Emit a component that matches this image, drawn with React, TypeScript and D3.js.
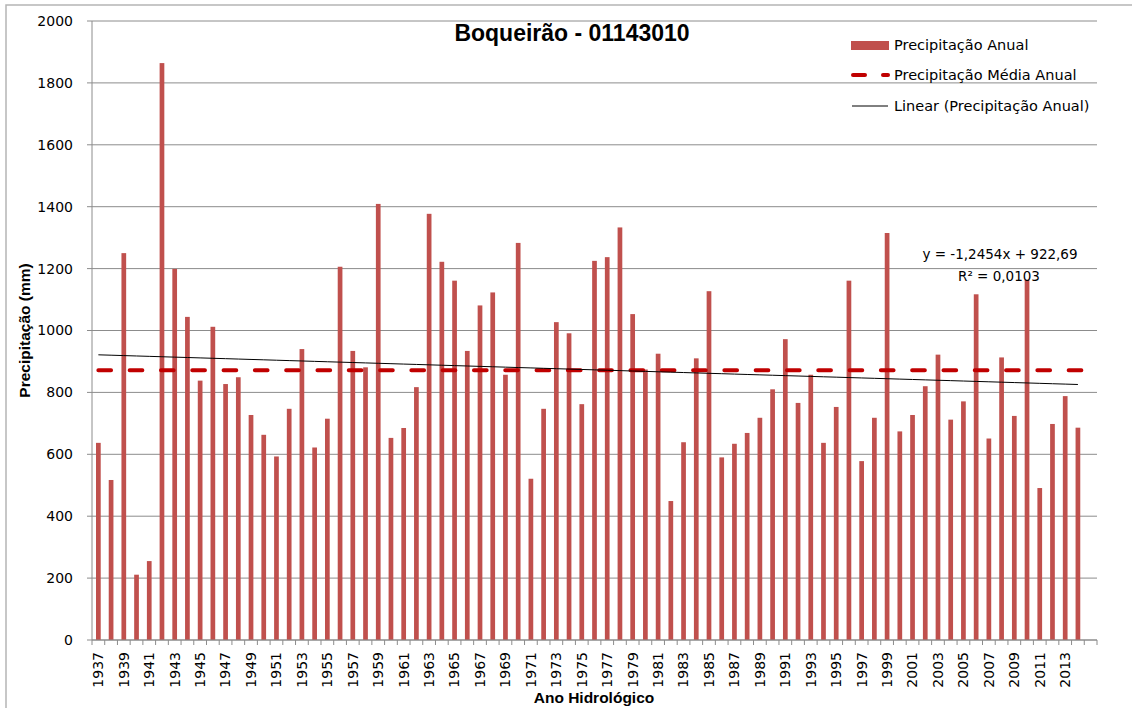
import React from 'react';
import * as d3 from 'd3';

// anos hidrológicos com dados
const years = d3.range(1937, 2015);
// precipitação anual (mm)
const precip = [
  637, 517, 1250, 211, 255, 1864, 1199, 1044, 838, 1012,
  827, 849, 727, 663, 593, 747, 940, 622, 715, 1206,
  934, 881, 1409, 653, 685, 817, 1377, 1222, 1161, 934,
  1081, 1123, 857, 1283, 521, 747, 1027, 991, 762, 1225,
  1237, 1333, 1053, 874, 925, 449, 639, 910, 1127, 590,
  634, 669, 718, 810, 972, 766, 857, 637, 753, 1161,
  578, 718, 1315, 674, 727, 820, 922, 712, 771, 1117,
  651, 913, 724, 1164, 491, 698, 788, 686,
];
// the axis in the original has one extra empty slot at the end
const categories = [...years.map(String), ''];
const yTicks = [0, 200, 400, 600, 800, 1000, 1200, 1400, 1600, 1800, 2000];

// linha de tendência (Excel)
const trendSlope = -1.2454;
const trendIntercept = 922.69;
const trendLabel = 'y = -1,2454x + 922,69';
const r2Label = 'R² = 0,0103';

const legendItems = ['Precipitação Anual', 'Precipitação Média Anual', 'Linear (Precipitação Anual)'];

const W = 1132;
const H = 708;
const plot = { left: 92, right: 1097, top: 21, bottom: 640 };

const BAR = '#C0504D';
const MEAN = '#C00000';
const GRID = '#8c8c8c';
const SANS = '"DejaVu Sans", Verdana, sans-serif';
const BOLD = '"Liberation Sans", Arial, sans-serif';

export default function App() {
  const x = d3.scaleBand<string>().domain(categories).range([plot.left, plot.right]).padding(0);
  const y = d3.scaleLinear().domain([0, 2000]).range([plot.bottom, plot.top]);

  const bw = x.bandwidth();
  const barW = bw * 0.37;
  const center = (c: string) => (x(c) as number) + bw / 2;

  const mean = d3.mean(precip) as number;

  // Excel numbers the categories from 1
  const trendPts = years.map((yr, i) => [center(String(yr)), y(trendSlope * (i + 1) + trendIntercept)] as [number, number]);
  const trendPath = d3.line()(trendPts) || '';

  const tickXs = d3.range(categories.length + 1).map((i) => plot.left + i * x.step());

  return (
    <div style={{ position: 'absolute', left: 0, top: 0 }}>
      <svg width={W} height={H} style={{ display: 'block', background: '#fff' }}>
        {/* moldura externa */}
        <rect x={6} y={5} width={W + 20} height={H + 20} fill="none" stroke="#b5b5b5" strokeWidth={1.5} />

        {/* gridlines */}
        {yTicks.map((t) => (
          <line key={'g' + t} x1={plot.left} x2={plot.right} y1={y(t)} y2={y(t)} stroke={GRID} strokeWidth={1} />
        ))}

        {/* barras */}
        {years.map((yr, i) => (
          <rect
            key={yr}
            x={center(String(yr)) - barW / 2}
            y={y(precip[i])}
            width={barW}
            height={plot.bottom - y(precip[i])}
            fill={BAR}
          />
        ))}

        {/* média */}
        <line
          x1={center(categories[0])}
          x2={center(categories[categories.length - 1])}
          y1={y(mean)}
          y2={y(mean)}
          stroke={MEAN}
          strokeWidth={4}
          strokeDasharray="12.7 18.6"
          strokeLinecap="round"
        />

        {/* tendência linear */}
        <path d={trendPath} fill="none" stroke="#000" strokeWidth={1} />

        {/* eixo y */}
        <line x1={plot.left} x2={plot.left} y1={plot.top} y2={plot.bottom} stroke={GRID} />
        {yTicks.map((t) => (
          <g key={'y' + t}>
            <line x1={plot.left - 5} x2={plot.left} y1={y(t)} y2={y(t)} stroke={GRID} />
            <text x={73} y={y(t)} dy="0.35em" textAnchor="end" fontFamily={SANS} fontSize={14} fill="#000">
              {t}
            </text>
          </g>
        ))}

        {/* eixo x */}
        <line x1={plot.left} x2={plot.right} y1={plot.bottom} y2={plot.bottom} stroke={GRID} />
        {tickXs.map((tx, i) => (
          <line key={'t' + i} x1={tx} x2={tx} y1={plot.bottom} y2={plot.bottom + 5} stroke={GRID} />
        ))}
        {categories.map((c, i) =>
          i % 2 === 0 && c !== '' ? (
            <text
              key={'l' + c}
              transform={`translate(${center(c)},${plot.bottom + 12}) rotate(-90)`}
              dy="0.35em"
              textAnchor="end"
              fontFamily={SANS}
              fontSize={14}
              fill="#000"
            >
              {c}
            </text>
          ) : null
        )}

        {/* títulos */}
        <text x={572} y={41} textAnchor="middle" fontFamily={BOLD} fontWeight="bold" fontSize={23} fill="#000">
          Boqueirão - 01143010
        </text>
        <text x={594} y={703} textAnchor="middle" fontFamily={BOLD} fontWeight="bold" fontSize={15.5} fill="#000">
          Ano Hidrológico
        </text>
        <text
          transform={`translate(29.5,${(plot.top + plot.bottom) / 2}) rotate(-90)`}
          textAnchor="middle"
          fontFamily={BOLD}
          fontWeight="bold"
          fontSize={15.5}
          fill="#000"
        >
          Precipitação (mm)
        </text>

        {/* equação */}
        <text x={1000} y={259} textAnchor="middle" fontFamily={SANS} fontSize={13.5} fill="#000">
          {trendLabel}
        </text>
        <text x={999} y={281} textAnchor="middle" fontFamily={SANS} fontSize={13.5} fill="#000">
          {r2Label}
        </text>

        {/* legenda */}
        <g fontFamily={SANS} fontSize={14.5} fill="#000">
          <rect x={851} y={41} width={38} height={9} fill={BAR} />
          <text x={894} y={45} dy="0.35em">{legendItems[0]}</text>
          <line x1={853} x2={865} y1={75} y2={75} stroke={MEAN} strokeWidth={4} strokeLinecap="round" />
          <line x1={883} x2={888} y1={75} y2={75} stroke={MEAN} strokeWidth={4} strokeLinecap="round" />
          <text x={894} y={75} dy="0.35em">{legendItems[1]}</text>
          <line x1={852} x2={888} y1={106} y2={106} stroke="#000" strokeWidth={1} />
          <text x={894} y={106} dy="0.35em">{legendItems[2]}</text>
        </g>
      </svg>
    </div>
  );
}
